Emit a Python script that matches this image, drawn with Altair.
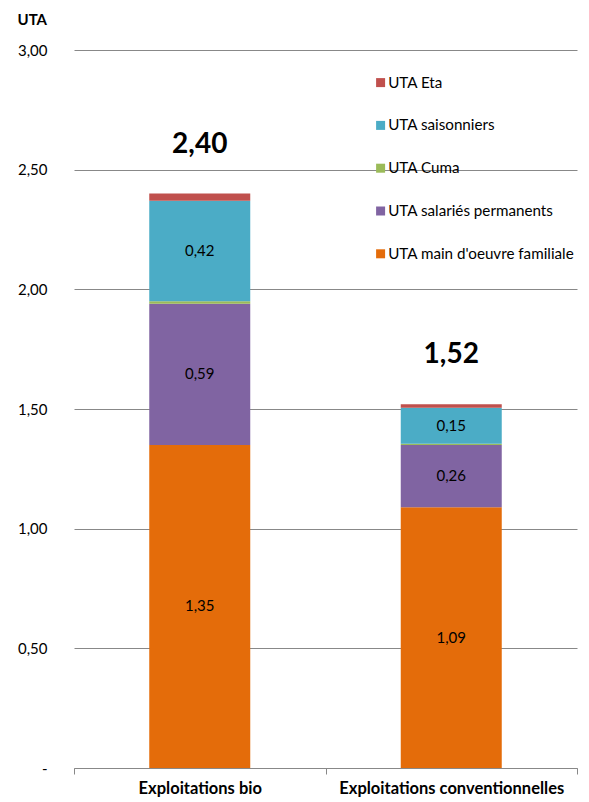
import altair as alt
import pandas as pd

categories = ["Exploitations bio", "Exploitations conventionnelles"]
series = ["UTA main d'oeuvre familiale", "UTA salariés permanents", "UTA Cuma",
          "UTA saisonniers", "UTA Eta"]
colors = ["#E46C0A", "#8064A2", "#9BBB59", "#4BACC6", "#C0504D"]
bio = [1.35, 0.59, 0.01, 0.42, 0.03]
conv = [1.09, 0.26, 0.005, 0.15, 0.015]
show_label = [True, True, False, True, False]

rows = []
for cat, vals in zip(categories, [bio, conv]):
    for i, (s, v) in enumerate(zip(series, vals)):
        rows.append({"cat": cat, "serie": s, "value": v, "ord": i, "show": show_label[i]})
df = pd.DataFrame(rows)

FONT = "Lato"
legend_order = list(reversed(series))
legend_colors = list(reversed(colors))

base = alt.Chart(df)

x_enc = alt.X("cat:N", sort=categories, title=None,
              scale=alt.Scale(paddingInner=0, paddingOuter=0),
              axis=alt.Axis(labelFontWeight="bold", labelFontSize=16.5, labelColor="#000",
                            labelPadding=6, labelAngle=0, tickBand="extent", labelLimit=0,
                            domainColor="#888", tickColor="#888", tickSize=6,
                            labelFont=FONT))

bars = base.mark_bar(size=101).encode(
    x=x_enc,
    y=alt.Y("value:Q", stack="zero", title="UTA",
            scale=alt.Scale(domain=[0, 3]),
            axis=alt.Axis(values=[0, 0.5, 1, 1.5, 2, 2.5, 3],
                          labelExpr="datum.value == 0 ? '-' : replace(format(datum.value, '.2f'), '.', ',')",
                          domain=False, ticks=False, grid=True, gridColor="#888",
                          labelFontSize=15, labelColor="#000", labelPadding=27, labelFont=FONT,
                          titleAngle=0, titleX=-57, titleY=-23, titleAlign="left",
                          titleFontSize=15, titleFontWeight="bold", titleFont=FONT)),
    color=alt.Color("serie:N", sort=legend_order,
                    scale=alt.Scale(domain=legend_order, range=legend_colors),
                    legend=alt.Legend(title=None, orient="none", legendX=299, legendY=25,
                                      symbolType="square", symbolSize=81, symbolStrokeWidth=0,
                                      labelFontSize=15.2, labelFont=FONT, labelColor="#000",
                                      labelLimit=0,
                                      rowPadding=26.8, padding=0, labelOffset=0)),
    order=alt.Order("ord:Q", sort="ascending"),
)

seg_labels = base.transform_stack(
    stack="value", groupby=["cat"], sort=[alt.SortField("ord", "ascending")], as_=["y0", "y1"]
).transform_filter("datum.show").transform_calculate(
    mid="(datum.y0 + datum.y1) / 2",
    lab="replace(format(datum.value, '.2f'), '.', ',')"
).mark_text(fontSize=15, font=FONT, color="#000").encode(
    x=alt.X("cat:N", sort=categories),
    y=alt.Y("mid:Q"),
    text="lab:N",
)

totals = base.transform_aggregate(
    total="sum(value)", groupby=["cat"]
).transform_calculate(
    lab="replace(format(datum.total, '.2f'), '.', ',')"
).mark_text(fontSize=28, fontWeight="bold", font=FONT, color="#000",
            baseline="bottom", dy=-35).encode(
    x=alt.X("cat:N", sort=categories),
    y=alt.Y("total:Q"),
    text="lab:N",
)

chart = alt.layer(bars, seg_labels, totals).properties(
    width=503, height=718,
    autosize=alt.AutoSizeParams(type="none"),
    padding={"left": 66, "top": 42, "right": 4, "bottom": 33},
).configure_view(stroke=None)

chart.save("out.html", embed_options={"renderer": "svg", "actions": False})
